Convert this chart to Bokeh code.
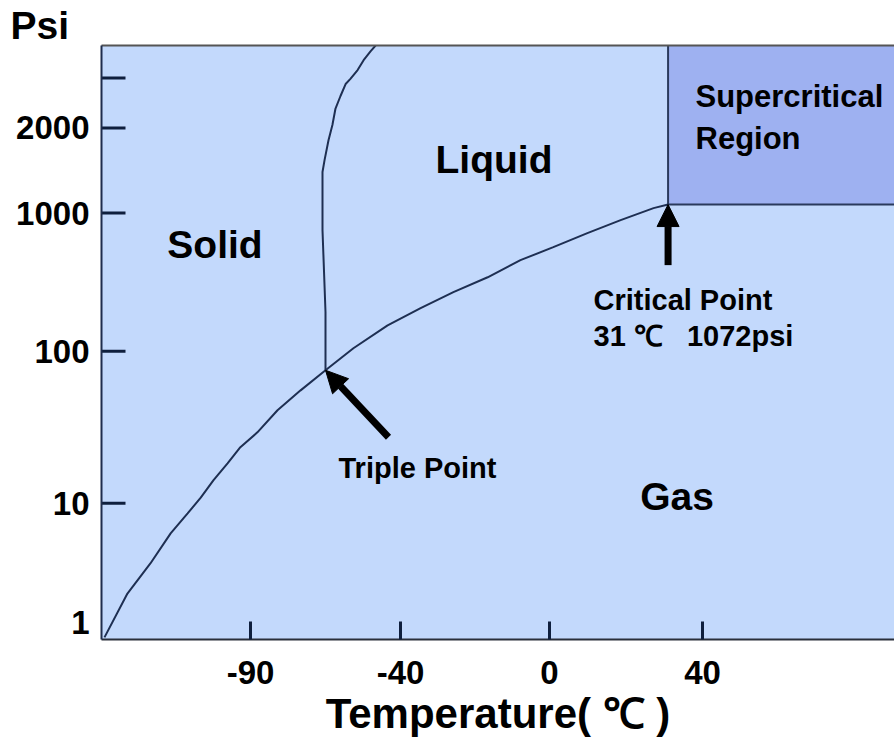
import numpy as np
from bokeh.plotting import figure
from bokeh.models import Range1d, FixedTicker, LinearAxis, Label, Arrow, NormalHead
from bokeh.embed import file_html
from bokeh.resources import INLINE

# ---- CO2 phase diagram data (temperature in deg C, pressure in psi) ----
SUBLIMATION_T = [-139.0, -131.3, -123.6, -116.8, -111.1, -106.7, -102.4, -97.7,
                 -93.4, -87.7, -81.0, -73.3, -65.0]
SUBLIMATION_P = [0.75, 1.75, 3.13, 5.6, 8.24, 10.9, 14.2, 18.3,
                 23.4, 29.3, 40.9, 55.3, 75.0]

VAPOUR_T = [-65.0, -55.7, -44.3, -34.6, -25.8, -16.6, -7.8, 1.0, 9.9, 18.6, 27.2, 31.0]
VAPOUR_P = [75.0, 105, 154, 205, 268, 343, 456, 567, 716, 889, 1041, 1072]

MELTING_T = [-65.0, -65.0, -65.0, -66.0, -66.0, -65.3, -64.0, -62.7, -61.7,
             -60.0, -58.3, -56.7, -54.3, -52.3, -50.0, -48.3]
MELTING_P = [75.0, 81, 192, 753, 1397, 1542, 1811, 2049, 2333,
             2592, 2856, 2978, 3200, 3470, 3732, 3916]

TRIPLE_T, TRIPLE_P = -65.0, 75.0
CRITICAL_T, CRITICAL_P = 31.0, 1072.0

# arrow tails (temperature, pressure) for the two annotated points
TRIPLE_ARROW_TAIL = (-44.0, 27.2)
CRITICAL_ARROW_TAIL = (31.0, 420.0)

# ---- axis ticks ----
T_TICKS = [-90, -40, 0, 40]
P_LABELS = [1, 10, 100, 1000, 2000]
P_TICK_MARKS = [10, 100, 1000, 2000, 3000]

# ---- schematic (non-uniform) axis scales: value knots -> axis slot ----
T_KNOTS = [-140, -90, -40, 0, 40, 90]
T_SLOTS = [0, 149, 299, 448, 601, 793]
P_KNOTS = [0.72, 1, 10, 100, 1000, 2000, 3000, 4000]
P_SLOTS = [0, 17, 136, 288, 426, 511, 561, 596]
P_TOP = 3916.0


def tx(t):
    return np.interp(t, T_KNOTS, T_SLOTS)


def py(p):
    return np.interp(np.log10(p), np.log10(P_KNOTS), P_SLOTS)


BG = "#C3D9FC"
SUPER = "#9EB1F1"
CURVE = "#1E2F52"
TICK = "#0F1F3D"
FONT = "Liberation Sans"
NBSP = "\u00a0"

p = figure(width=894, height=743,
           x_range=Range1d(float(tx(T_KNOTS[0])), float(tx(T_KNOTS[-1]))),
           y_range=Range1d(float(py(P_KNOTS[0])), float(py(P_TOP))),
           output_backend="svg", toolbar_location=None,
           min_border_left=101, min_border_right=0,
           min_border_top=45, min_border_bottom=104)
p.background_fill_color = BG
p.border_fill_color = "white"
p.outline_line_color = None
p.grid.visible = False

# unit label of the pressure axis, top left
p.title.text = "Psi"
p.title.align = "left"
p.title.offset = -91
p.title.standoff = -3
p.title.text_font = FONT
p.title.text_font_style = "bold"
p.title.text_font_size = "39px"
p.title.text_color = "black"

# supercritical region (above and right of the critical point)
p.quad(left=[tx(CRITICAL_T)], right=[tx(T_KNOTS[-1])],
       bottom=[py(CRITICAL_P)], top=[py(P_TOP) + 10],
       fill_color=SUPER, line_color=None)
p.line(x=[tx(CRITICAL_T), tx(CRITICAL_T), tx(T_KNOTS[-1])],
       y=[py(P_TOP) + 10, py(CRITICAL_P), py(CRITICAL_P)],
       line_color="#2A3A5C", line_width=2)

# phase boundaries
p.line(x=tx(SUBLIMATION_T), y=py(SUBLIMATION_P), line_color=CURVE, line_width=2)
p.line(x=tx(VAPOUR_T), y=py(VAPOUR_P), line_color=CURVE, line_width=2)
p.line(x=tx(MELTING_T), y=py(MELTING_P), line_color=CURVE, line_width=2)

# y tick marks drawn inside the frame
p.scatter(x=[tx(T_KNOTS[0])] * len(P_TICK_MARKS), y=py(P_TICK_MARKS),
          marker="dash", size=48, line_color=TICK, line_width=3)

# axes
xa = p.xaxis[0]
xa.ticker = FixedTicker(ticks=[float(tx(t)) for t in T_TICKS])
xa.major_label_overrides = {float(tx(t)): str(t) for t in T_TICKS}
xa.major_tick_in = 18
xa.major_tick_out = 0
xa.major_tick_line_width = 3
xa.major_tick_line_color = TICK
xa.minor_tick_line_color = None
xa.axis_line_color = "#2A2F3A"
xa.axis_line_width = 2
xa.major_label_text_font = FONT
xa.major_label_text_font_style = "bold"
xa.major_label_text_font_size = "33px"
xa.major_label_text_color = "black"
xa.major_label_standoff = 21
xa.axis_label = "Temperature( ℃ )"
xa.axis_label_text_font = FONT
xa.axis_label_text_font_style = "bold"
xa.axis_label_text_font_size = "42px"
xa.axis_label_text_color = "black"
xa.axis_label_standoff = 3

ya = p.yaxis[0]
ya.ticker = FixedTicker(ticks=[float(py(v)) for v in P_LABELS])
ya.major_label_overrides = {float(py(v)): str(v) for v in P_LABELS}
ya.major_tick_in = 0
ya.major_tick_out = 0
ya.major_tick_line_color = None
ya.minor_tick_line_color = None
ya.axis_line_color = "#1F2D4D"
ya.axis_line_width = 2
ya.major_label_text_font = FONT
ya.major_label_text_font_style = "bold"
ya.major_label_text_font_size = "33px"
ya.major_label_text_color = "black"
ya.major_label_standoff = 12

top = LinearAxis(ticker=FixedTicker(ticks=[]), axis_line_color="#555555",
                 axis_line_width=2, major_tick_line_color=None,
                 minor_tick_line_color=None, major_label_text_color=None)
p.add_layout(top, "above")

# arrows to the triple and critical points
head = dict(size=22, fill_color="black", line_color="black")
p.add_layout(Arrow(end=NormalHead(**head),
                   x_start=float(tx(TRIPLE_ARROW_TAIL[0])), y_start=float(py(TRIPLE_ARROW_TAIL[1])),
                   x_end=float(tx(TRIPLE_T)), y_end=float(py(TRIPLE_P)),
                   line_color="black", line_width=7))
p.add_layout(Arrow(end=NormalHead(**head),
                   x_start=float(tx(CRITICAL_ARROW_TAIL[0])), y_start=float(py(CRITICAL_ARROW_TAIL[1])),
                   x_end=float(tx(CRITICAL_T)), y_end=float(py(CRITICAL_P)),
                   line_color="black", line_width=7))


def label(x, y, text, size, align="left"):
    p.add_layout(Label(x=x, y=y, text=text, text_font=FONT, text_font_style="bold",
                       text_font_size=size, text_color="black", text_align=align,
                       text_baseline="alphabetic"))


# region and point labels (positions in frame slots)
label(113.5, 395, "Solid", "39px", "center")
label(392.5, 480, "Liquid", "39px", "center")
label(575.5, 143, "Gas", "39px", "center")
label(594, 542, "Supercritical", "31px")
label(594, 501, "Region", "31px")
label(492, 339, "Critical Point", "29px")
label(492, 303, "31 ℃" + NBSP * 3 + "1072psi", "29px")
label(237, 171, "Triple Point", "29px")

open("out.html", "w").write(file_html(p, INLINE))
